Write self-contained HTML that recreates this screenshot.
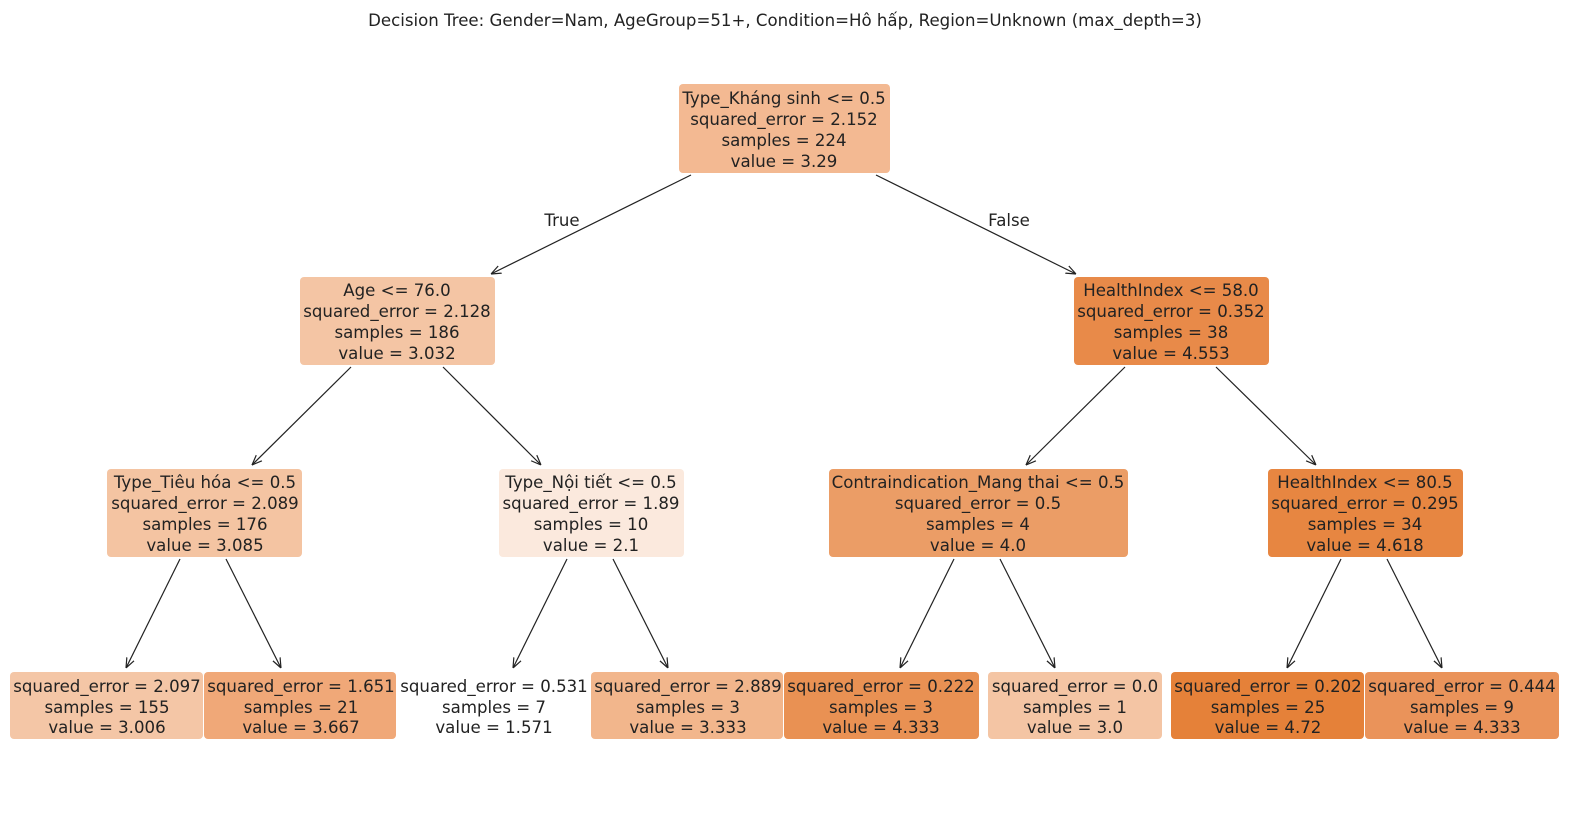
<!DOCTYPE html>
<html><head><meta charset="utf-8"><style>
html,body{margin:0;padding:0;background:#fff;}
svg text{font-family:"DejaVu Sans","Liberation Sans",sans-serif;fill:#222;}
</style></head><body>
<svg width="1570" height="813" viewBox="0 0 1570 813" xmlns="http://www.w3.org/2000/svg">
<defs><marker id="a" viewBox="0 0 10 10" refX="10" refY="5" markerWidth="10" markerHeight="10" markerUnits="userSpaceOnUse" orient="auto"><path d="M0,1 L10,5 L0,9" fill="none" stroke="#222" stroke-width="1.2"/></marker></defs>
<text x="785" y="26" font-size="16.6" text-anchor="middle">Decision Tree: Gender=Nam, AgeGroup=51+, Condition=Hô hấp, Region=Unknown (max_depth=3)</text>
<g stroke="#222" stroke-width="1.2" marker-end="url(#a)">
<line x1="691" y1="175" x2="491" y2="274"/><line x1="876" y1="175" x2="1076" y2="274"/>
<line x1="351" y1="367" x2="252" y2="465"/><line x1="443" y1="367" x2="541" y2="465"/>
<line x1="1125" y1="367" x2="1026" y2="465"/><line x1="1216" y1="367" x2="1316" y2="465"/>
<line x1="180" y1="559" x2="126" y2="668"/><line x1="226" y1="559" x2="281" y2="668"/>
<line x1="567" y1="559" x2="513" y2="668"/><line x1="613" y1="559" x2="668" y2="668"/>
<line x1="954" y1="559" x2="900" y2="668"/><line x1="1000" y1="559" x2="1055" y2="668"/>
<line x1="1341" y1="559" x2="1287" y2="668"/><line x1="1387" y1="559" x2="1442" y2="668"/>
</g>
<text x="562" y="226" font-size="16.6" text-anchor="middle">True</text>
<text x="1009" y="226" font-size="16.6" text-anchor="middle">False</text>
<g font-size="16.6" text-anchor="middle">
<rect x="679" y="84" width="211" height="89" rx="4" fill="#f3b992"/>
<text x="784" y="104">Type_Kháng sinh &lt;= 0.5</text><text x="784" y="125">squared_error = 2.152</text><text x="784" y="146">samples = 224</text><text x="784" y="167">value = 3.29</text>
<rect x="300" y="277" width="195" height="88" rx="4" fill="#f4c5a4"/>
<text x="397" y="296">Age &lt;= 76.0</text><text x="397" y="317">squared_error = 2.128</text><text x="397" y="338">samples = 186</text><text x="397" y="359">value = 3.032</text>
<rect x="1074" y="277" width="195" height="88" rx="4" fill="#e88a49"/>
<text x="1171" y="296">HealthIndex &lt;= 58.0</text><text x="1171" y="317">squared_error = 0.352</text><text x="1171" y="338">samples = 38</text><text x="1171" y="359">value = 4.553</text>
<rect x="107" y="469" width="195" height="88" rx="4" fill="#f4c4a2"/>
<text x="205" y="488">Type_Tiêu hóa &lt;= 0.5</text><text x="205" y="509">squared_error = 2.089</text><text x="205" y="530">samples = 176</text><text x="205" y="551">value = 3.085</text>
<rect x="499" y="469" width="185" height="88" rx="4" fill="#fbe9dd"/>
<text x="591" y="488">Type_Nội tiết &lt;= 0.5</text><text x="591" y="509">squared_error = 1.89</text><text x="591" y="530">samples = 10</text><text x="591" y="551">value = 2.1</text>
<rect x="829" y="469" width="299" height="88" rx="4" fill="#eb9d66"/>
<text x="978" y="488">Contraindication_Mang thai &lt;= 0.5</text><text x="978" y="509">squared_error = 0.5</text><text x="978" y="530">samples = 4</text><text x="978" y="551">value = 4.0</text>
<rect x="1268" y="469" width="195" height="88" rx="4" fill="#e78641"/>
<text x="1365" y="488">HealthIndex &lt;= 80.5</text><text x="1365" y="509">squared_error = 0.295</text><text x="1365" y="530">samples = 34</text><text x="1365" y="551">value = 4.618</text>
<rect x="10" y="672" width="193" height="67" rx="4" fill="#f4c6a6"/>
<text x="107" y="692">squared_error = 2.097</text><text x="107" y="713">samples = 155</text><text x="107" y="733">value = 3.006</text>
<rect x="204" y="672" width="192" height="67" rx="4" fill="#f0a878"/>
<text x="301" y="692">squared_error = 1.651</text><text x="301" y="713">samples = 21</text><text x="301" y="733">value = 3.667</text>
<rect x="399" y="672" width="192" height="67" rx="4" fill="#ffffff"/>
<text x="494" y="692">squared_error = 0.531</text><text x="494" y="713">samples = 7</text><text x="494" y="733">value = 1.571</text>
<rect x="591" y="672" width="192" height="67" rx="4" fill="#f2b68c"/>
<text x="688" y="692">squared_error = 2.889</text><text x="688" y="713">samples = 3</text><text x="688" y="733">value = 3.333</text>
<rect x="784" y="672" width="195" height="67" rx="4" fill="#e99153"/>
<text x="881" y="692">squared_error = 0.222</text><text x="881" y="713">samples = 3</text><text x="881" y="733">value = 4.333</text>
<rect x="988" y="672" width="174" height="67" rx="4" fill="#f4c5a4"/>
<text x="1075" y="692">squared_error = 0.0</text><text x="1075" y="713">samples = 1</text><text x="1075" y="733">value = 3.0</text>
<rect x="1171" y="672" width="193" height="67" rx="4" fill="#e58139"/>
<text x="1268" y="692">squared_error = 0.202</text><text x="1268" y="713">samples = 25</text><text x="1268" y="733">value = 4.72</text>
<rect x="1365" y="672" width="194" height="67" rx="4" fill="#ea935a"/>
<text x="1462" y="692">squared_error = 0.444</text><text x="1462" y="713">samples = 9</text><text x="1462" y="733">value = 4.333</text>
</g>
</svg>
</body></html>
